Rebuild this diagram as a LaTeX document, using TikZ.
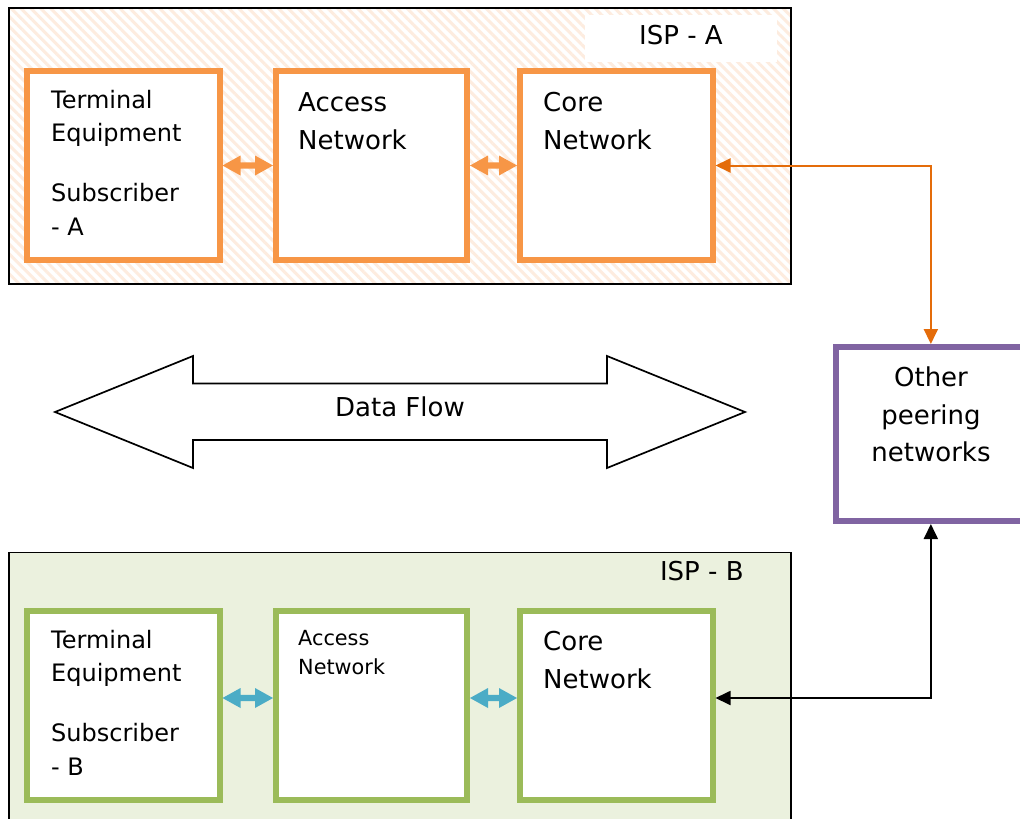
\documentclass[tikz,border=0pt]{standalone}
\usepackage{fontspec}
\setmainfont{DejaVu Sans}
\usetikzlibrary{arrows.meta,calc,patterns.meta}
\definecolor{orbox}{RGB}{247,150,70}
\definecolor{orline}{RGB}{228,108,10}
\definecolor{grbox}{RGB}{155,187,89}
\definecolor{grfill}{RGB}{235,241,222}
\definecolor{blarr}{RGB}{75,172,198}
\definecolor{purp}{RGB}{128,100,162}
\definecolor{hatch}{RGB}{253,236,223}

% block double arrow between two node anchors: #1 from, #2 to, #3 vertical offset, #4 colour
\newcommand\blkarrow[4]{\fill[#4] let \p1=(#1), \p2=(#2) in
 (\x1,\y1+#3) -- (\x1+18pt,\y1+#3+10pt) -- (\x1+18pt,\y1+#3+3.2pt) -- (\x2-18pt,\y1+#3+3.2pt)
 -- (\x2-18pt,\y1+#3+10pt) -- (\x2,\y1+#3) -- (\x2-18pt,\y1+#3-10pt) -- (\x2-18pt,\y1+#3-3.2pt)
 -- (\x1+18pt,\y1+#3-3.2pt) -- (\x1+18pt,\y1+#3-10pt) -- cycle;}

\begin{document}
\begin{tikzpicture}[x=1pt,y=1pt,
  ispbox/.style={draw=black, line width=1.5pt, inner sep=0pt, minimum width=782pt},
  ubox/.style={line width=6pt, fill=white, inner sep=0pt, minimum height=189pt},
  oabox/.style={ubox, draw=orbox},
  gbbox/.style={ubox, draw=grbox},
  tl/.style={inner sep=0pt, anchor=base west},
  tc/.style={inner sep=0pt, anchor=base},
  f24/.style={font=\fontsize{24}{29}\selectfont},
  f26/.style={font=\fontsize{26}{31}\selectfont},
  f21/.style={font=\fontsize{20.8}{25}\selectfont},
  tip/.style={{Triangle[length=15pt,width=14pt]}-{Triangle[length=15pt,width=14pt]}},
]
\useasboundingbox (0,0) rectangle (1020,-819);
\clip (0,0) rectangle (1020,-819);
\fill[white] (0,0) rectangle (1020,-819);

% ISP A container
\node[ispbox, minimum height=276pt, preaction={fill=white},
      pattern={Lines[angle=-45,distance=7pt,line width=3pt]}, pattern color=hatch]
      (ispA) at (400,-146) {};
\node[fill=white, inner sep=0pt, minimum width=192pt, minimum height=47pt] (ispAbg) at (681,-38.5) {};
\node[tc, f26] (ispAt) at (681,-44) {ISP - A};

% ISP B container
\node[ispbox, fill=grfill, minimum height=277.3pt] (ispB) at (400,-691.35) {};
\node[tc, f26] (ispBt) at (701.8,-580.7) {ISP - B};

% ISP A boxes
\node[oabox, minimum width=192.5pt] (ta) at (123.25,-165.5) {};
\node[oabox, minimum width=191pt] (aa) at (371.5,-165.5) {};
\node[oabox, minimum width=192.5pt] (ca) at (616.25,-165.5) {};

% ISP B boxes
\node[gbbox, minimum width=192.5pt] (tb) at (123.25,-705.5) {};
\node[gbbox, minimum width=191pt] (ab) at (371.5,-705.5) {};
\node[gbbox, minimum width=192.5pt] (cb) at (616.25,-705.5) {};

% other peering networks
\node[draw=purp, line width=6pt, fill=white, inner sep=0pt, minimum width=190.3pt, minimum height=174pt] (oth) at (930.85,-434) {};

% labels A
\node[tl, f24] (ta1) at (51,-108) {Terminal};
\node[tl, f24] (ta2) at (51,-141.7) {Equipment};
\node[tl, f24] (ta3) at (51,-201.5) {Subscriber};
\node[tl, f24] (ta4) at (51,-235) {- A};
\node[tl, f26] (aa1) at (298,-111) {Access};
\node[tl, f26] (aa2) at (298,-149) {Network};
\node[tl, f26] (ca1) at (543,-111) {Core};
\node[tl, f26] (ca2) at (543,-149) {Network};

% labels B
\node[tl, f24] (tb1) at (51,-648.3) {Terminal};
\node[tl, f24] (tb2) at (51,-681.7) {Equipment};
\node[tl, f24] (tb3) at (51,-741.7) {Subscriber};
\node[tl, f24] (tb4) at (51,-775) {- B};
\node[tl, f21] (ab1) at (298,-645) {Access};
\node[tl, f21] (ab2) at (298,-674) {Network};
\node[tl, f26] (cb1) at (543,-650.5) {Core};
\node[tl, f26] (cb2) at (543,-688.5) {Network};

% other labels
\node[tc, f26] (oth1) at (931,-386.7) {Other};
\node[tc, f26] (oth2) at (931,-424) {peering};
\node[tc, f26] (oth3) at (931,-461) {networks};

% small block arrows
\blkarrow{ta.east}{aa.west}{0pt}{orbox}
\blkarrow{aa.east}{ca.west}{0pt}{orbox}
\blkarrow{tb.east}{ab.west}{7.5pt}{blarr}
\blkarrow{ab.east}{cb.west}{7.5pt}{blarr}

% data flow arrow
\draw[line width=1.7pt, fill=white, line join=miter]
  (55,-412) -- (193,-356) -- (193,-383.5) -- (607,-383.5) -- (607,-356) -- (745,-412)
  -- (607,-468) -- (607,-440) -- (193,-440) -- (193,-468) -- cycle;
\node[tc, f26] (df) at (400,-416) {Data Flow};

% connectors
\draw[orline, line width=2pt, tip] (ca.east) -| (oth.north);
\draw[black, line width=1.8pt, tip] (oth.south) |- ([yshift=7.5pt]cb.east);
\end{tikzpicture}
\end{document}
